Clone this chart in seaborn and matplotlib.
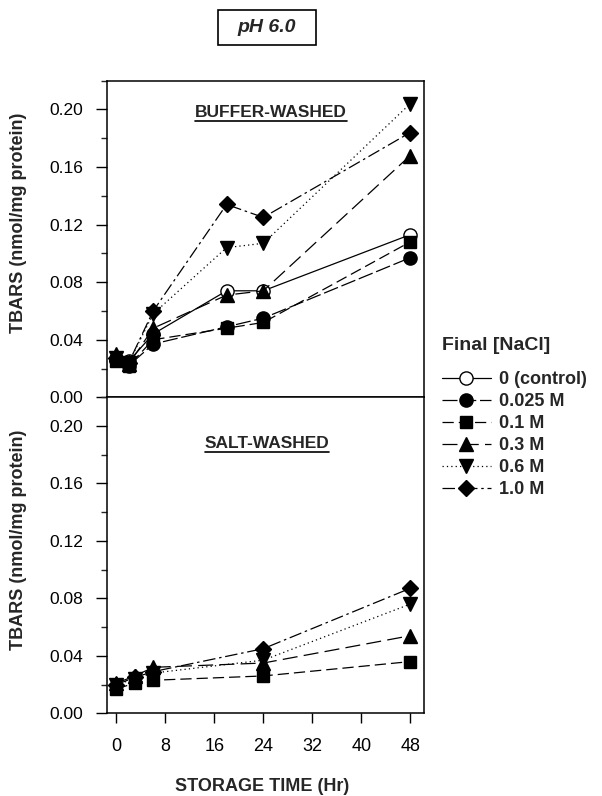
import matplotlib
matplotlib.use('Agg')
import matplotlib.pyplot as plt
import seaborn as sns
import pandas as pd
from matplotlib.lines import Line2D
from matplotlib.patches import Rectangle
from matplotlib.ticker import MultipleLocator, FormatStrFormatter

sns.set_theme(style='ticks')
plt.rcParams['font.family'] = ['Liberation Sans', 'DejaVu Sans']

# ---------------- data ----------------
conc_labels = ['0 (control)', '0.025 M', '0.1 M', '0.3 M', '0.6 M', '1.0 M']

buffer_time = [0, 2, 6, 18, 24, 48]
buffer_control = [0.026, 0.025, 0.044, 0.074, 0.074, 0.113]
buffer_0025 = [0.026, 0.022, 0.037, 0.049, 0.055, 0.097]
buffer_01 = [0.025, 0.022, 0.040, 0.048, 0.052, 0.108]
buffer_03 = [0.030, 0.023, 0.048, 0.071, 0.074, 0.168]
buffer_06 = [0.027, 0.024, 0.058, 0.104, 0.107, 0.204]
buffer_10 = [0.027, 0.024, 0.060, 0.134, 0.125, 0.184]

salt_time = [0, 3, 6, 24, 48]
salt_01 = [0.017, 0.021, 0.023, 0.026, 0.036]
salt_03 = [0.021, 0.026, 0.032, 0.035, 0.054]
salt_06 = [0.020, 0.024, 0.028, 0.037, 0.076]
salt_10 = [0.020, 0.025, 0.029, 0.045, 0.087]

x_ticks = [0, 8, 16, 24, 32, 40, 48]
y_ticks = [0.00, 0.04, 0.08, 0.12, 0.16, 0.20]

buffer_series = {
    '0 (control)': buffer_control,
    '0.025 M': buffer_0025,
    '0.1 M': buffer_01,
    '0.3 M': buffer_03,
    '0.6 M': buffer_06,
    '1.0 M': buffer_10,
}
salt_series = {
    '0.1 M': salt_01,
    '0.3 M': salt_03,
    '0.6 M': salt_06,
    '1.0 M': salt_10,
}

# ---------------- styles ----------------
styles = {
    '0 (control)': dict(marker='o', mfc='white', ms=9.5, ls='-'),
    '0.025 M': dict(marker='o', mfc='black', ms=9.5, ls=(0, (12, 3))),
    '0.1 M': dict(marker='s', mfc='black', ms=8.5, ls=(0, (9, 4))),
    '0.3 M': dict(marker='^', mfc='black', ms=10, ls=(0, (12, 5))),
    '0.6 M': dict(marker='v', mfc='black', ms=10, ls=(0, (1, 2.5))),
    '1.0 M': dict(marker='D', mfc='black', ms=8, ls=(0, (10, 3, 2, 3))),
}

fig = plt.figure(figsize=(6.02, 7.96), dpi=100)
ax1 = fig.add_axes([0.1772, 0.5009, 0.5276, 0.3977])
ax2 = fig.add_axes([0.1772, 0.1039, 0.5276, 0.3970])


def draw(ax, times, series):
    for lab, vals in series.items():
        st = styles[lab]
        df = pd.DataFrame({'t': times, 'v': vals})
        sns.lineplot(data=df, x='t', y='v', ax=ax, color='black', lw=0.9,
                     linestyle=st['ls'], marker=st['marker'], markersize=st['ms'],
                     markerfacecolor=st['mfc'], markeredgecolor='black',
                     markeredgewidth=1.0, errorbar=None, clip_on=False, zorder=3)


draw(ax1, buffer_time, buffer_series)
draw(ax2, salt_time, salt_series)

for ax in (ax1, ax2):
    ax.set_xlim(-1.6, 50.3)
    ax.set_ylim(0, 0.22)
    ax.set_yticks(y_ticks)
    ax.yaxis.set_minor_locator(MultipleLocator(0.02))
    ax.yaxis.set_major_formatter(FormatStrFormatter('%.2f'))
    ax.tick_params(axis='y', which='major', direction='out', length=8, width=1,
                   pad=9, labelsize=12.5, colors='black')
    ax.tick_params(axis='y', which='minor', direction='out', length=4, width=1)
    for sp in ax.spines.values():
        sp.set_visible(True)
        sp.set_linewidth(1.1)
        sp.set_color('black')
    ax.set_ylabel('TBARS (nmol/mg protein)', fontsize=13, fontweight='bold')
    ax.yaxis.set_label_coords(-0.25, 0.55)

ax1.set_xticks(x_ticks)
ax1.tick_params(axis='x', which='both', bottom=False, labelbottom=False)
ax1.set_xlabel('')

ax2.set_xticks(x_ticks)
ax2.tick_params(axis='x', direction='out', length=7, width=1, pad=11,
                labelsize=13, colors='black')
ax2.set_xlabel('STORAGE TIME (Hr)', fontsize=13, fontweight='bold')
ax2.xaxis.set_label_coords(0.49, -0.205)

t1 = ax1.text(0.518, 0.899, 'BUFFER-WASHED', transform=ax1.transAxes,
              ha='center', va='center', fontsize=12.5, fontweight='bold')
t2 = ax2.text(0.505, 0.854, 'SALT-WASHED', transform=ax2.transAxes,
              ha='center', va='center', fontsize=12.5, fontweight='bold')

# title box
fig.patches.append(Rectangle((218 / 602, 1 - 45 / 796), 98 / 602, 35 / 796,
                             transform=fig.transFigure, fill=False,
                             edgecolor='black', linewidth=1.2))
fig.text(267 / 602, 1 - 27.3 / 796, 'pH 6.0', ha='center', va='center',
         fontsize=14, fontweight='bold', style='italic')

# legend
fig.text(442 / 602, 1 - 345 / 796, 'Final [NaCl]', ha='left', va='center',
         fontsize=14, fontweight='bold')
handles = []
for lab in conc_labels:
    st = styles[lab]
    handles.append(Line2D([], [], color='black', lw=0.9, linestyle=st['ls'],
                          marker=st['marker'], markersize=st['ms'],
                          markerfacecolor=st['mfc'], markeredgecolor='black'))
leg = fig.legend(handles, conc_labels, loc='upper left',
                 bbox_to_anchor=(442 / 602, 1 - 371 / 796), frameon=False,
                 borderpad=0, borderaxespad=0, handlelength=2.7,
                 handletextpad=0.45, labelspacing=0.28,
                 prop=dict(weight='bold', size=13))

# underline the panel titles
fig.canvas.draw()
r = fig.canvas.get_renderer()
for t in (t1, t2):
    bb = t.get_window_extent(r)
    y = bb.y0 - 1
    fig.add_artist(Line2D([bb.x0 / fig.bbox.width, bb.x1 / fig.bbox.width],
                          [y / fig.bbox.height, y / fig.bbox.height],
                          transform=fig.transFigure, color='black', lw=1.2))

fig.savefig('out.png', dpi=100, facecolor='white')
